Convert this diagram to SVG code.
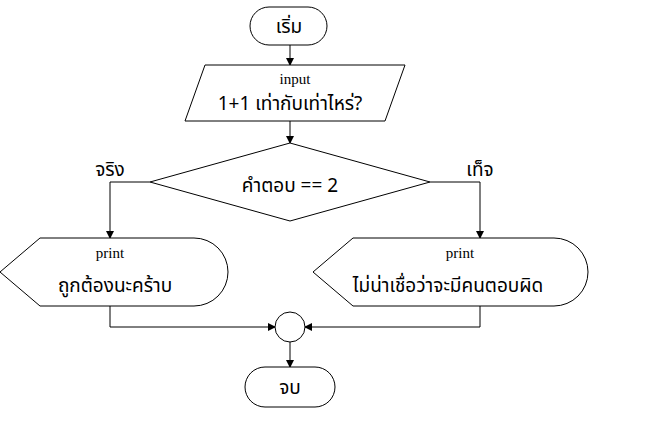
<svg xmlns="http://www.w3.org/2000/svg" width="657" height="423" viewBox="0 0 657 423">
<style>
.s{fill:#fff;stroke:#000;stroke-width:1}
.c{fill:none;stroke:#000;stroke-width:1}
.t{font-family:"Noto Sans Thai","Noto Sans","DejaVu Sans",sans-serif;font-size:19px;text-anchor:middle}
.k{font-family:"Liberation Serif",serif;font-size:15px;text-anchor:middle}
</style>
<defs><marker id="a" markerWidth="8" markerHeight="8" refX="7" refY="4" orient="auto" markerUnits="userSpaceOnUse"><path d="M0,0 L8,4 L0,8 Z"/></marker></defs>
<rect width="657" height="423" fill="#fff"/>
<g id="connectors">
<path class="c" d="M290,45 V65" marker-end="url(#a)"/>
<path class="c" d="M290,121 V143" marker-end="url(#a)"/>
<path class="c" d="M150,182 H110 V238" marker-end="url(#a)"/>
<path class="c" d="M430,182 H480 V238" marker-end="url(#a)"/>
<path class="c" d="M110,306 V327 H275" marker-end="url(#a)"/>
<path class="c" d="M480,306 V327 H305" marker-end="url(#a)"/>
<path class="c" d="M290,342 V367" marker-end="url(#a)"/>
<text class="t" x="110" y="176">จริง</text>
<text class="t" x="480" y="176">เท็จ</text>
</g>
<g id="start"><rect class="s" x="250" y="7" width="77" height="38" rx="19"/><text class="t" x="289" y="33">เริ่ม</text></g>
<g id="input"><path class="s" d="M205,65 H405 L385,121 H185 Z"/><text class="k" x="295" y="84">input</text><text class="t" x="290" y="110">1+1 เท่ากับเท่าไหร่?</text></g>
<g id="decision"><path class="s" d="M150,182 L290,143 L430,182 L290,221 Z"/><text class="t" x="290" y="192">คำตอบ == 2</text></g>
<g id="printTrue"><path class="s" d="M0,272 L40,238 H194 A34,34 0 0 1 194,306 H40 Z"/><text class="k" x="110" y="258">print</text><text class="t" x="115" y="292">ถูกต้องนะคร้าบ</text></g>
<g id="printFalse"><path class="s" d="M313,272 L353,238 H554 A34,34 0 0 1 554,306 H353 Z"/><text class="k" x="460" y="258">print</text><text class="t" x="448" y="292">ไม่น่าเชื่อว่าจะมีคนตอบผิด</text></g>
<g id="join"><circle class="s" cx="290" cy="327" r="15"/></g>
<g id="end"><rect class="s" x="245" y="367" width="90" height="40" rx="20"/><text class="t" x="290" y="394">จบ</text></g>
</svg>
